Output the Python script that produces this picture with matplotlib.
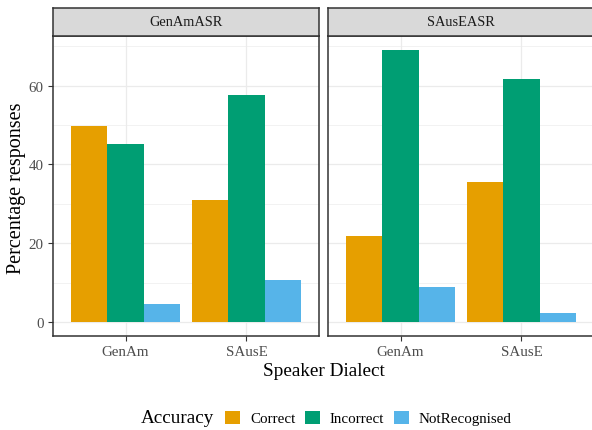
import numpy as np
import matplotlib
matplotlib.use("Agg")
import matplotlib.pyplot as plt
from matplotlib.patches import Patch

# ---------------------------------------------------------------------------
# Data: percentage of responses per accuracy class, by ASR model and dialect
# ---------------------------------------------------------------------------
models = ["GenAmASR", "SAusEASR"]
dialects = ["GenAm", "SAusE"]
accuracy = ["Correct", "Incorrect", "NotRecognised"]

genam_asr = {
    "Correct":       [49.8, 31.1],
    "Incorrect":     [45.1, 57.7],
    "NotRecognised": [4.6, 10.7],
}
sause_asr = {
    "Correct":       [21.8, 35.6],
    "Incorrect":     [69.1, 61.6],
    "NotRecognised": [8.9, 2.4],
}
panel_data = [genam_asr, sause_asr]

colours = ["#E69F00", "#009E73", "#56B4E9"]

plt.rcParams["font.family"] = ["Liberation Serif", "DejaVu Serif"]

W, H = 592, 431
fig = plt.figure(figsize=(W / 100, H / 100), dpi=100, facecolor="white")


def px_box(x0, y0, x1, y1):
    """pixel box (top-left origin) -> figure-fraction rect"""
    return [x0 / W, 1 - y1 / H, (x1 - x0) / W, (y1 - y0) / H]


panel_x = [(53, 319), (328, 594)]
top, bottom, strip_top = 37, 337, 9

all_vals = [v for d in panel_data for s in d.values() for v in s]
ymax = max(all_vals)
ylim = (-0.05 * ymax, ymax * 1.05)

grey20 = "#333333"
grey30 = "#4D4D4D"
grid_col = "#EBEBEB"

n = len(accuracy)
width = 0.9 / n
x = np.arange(1, len(dialects) + 1)

for i, (model, data) in enumerate(zip(models, panel_data)):
    x0, x1 = panel_x[i]
    ax = fig.add_axes(px_box(x0, top, x1, bottom))
    ax.set_xlim(0.4, len(dialects) + 0.6)
    ax.set_ylim(*ylim)

    # grid
    for yv in [0, 20, 40, 60]:
        ax.axhline(yv, color=grid_col, lw=0.9, zorder=0)
    for yv in [10, 30, 50, 70]:
        ax.axhline(yv, color=grid_col, lw=0.45, zorder=0)
    for xv in x:
        ax.axvline(xv, color=grid_col, lw=0.9, zorder=0)

    for j, acc in enumerate(accuracy):
        ax.bar(x + (j - 1) * width, data[acc], width=width,
               color=colours[j], zorder=2, linewidth=0)

    ax.set_xticks(x)
    ax.set_xticklabels(dialects)
    ax.set_yticks([0, 20, 40, 60])
    ax.tick_params(axis="both", colors=grey20, length=3.8, width=0.8,
                   labelsize=10.8, labelcolor=grey30, pad=3)
    if i > 0:
        ax.tick_params(axis="y", left=False, labelleft=False)
    for sp in ax.spines.values():
        sp.set_color(grey20)
        sp.set_linewidth(1.1)

    # facet strip
    sax = fig.add_axes(px_box(x0, strip_top, x1, top))
    sax.set_facecolor("#D9D9D9")
    sax.set_xticks([])
    sax.set_yticks([])
    for sp in sax.spines.values():
        sp.set_color(grey20)
        sp.set_linewidth(1.1)
    sax.text(0.5, 0.5, model, ha="center", va="center", fontsize=10.4,
             color="#1A1A1A", transform=sax.transAxes)

# axis titles
fig.text(17 / W, 1 - 188 / H, "Percentage responses", rotation=90,
         ha="center", va="center", fontsize=14.5)
fig.text(324 / W, 1 - 372 / H, "Speaker Dialect", ha="center", va="center",
         fontsize=13.9)

# legend
fig.text(177 / W, 1 - 419 / H, "Accuracy", ha="center", va="center",
         fontsize=13.8)
handles = [Patch(facecolor=c, edgecolor="none") for c in colours]
fig.legend(handles, accuracy, ncol=3, loc="center left",
           bbox_to_anchor=(219 / W, 1 - 419 / H), frameon=False,
           fontsize=10.8, handlelength=1.0, handleheight=1.0,
           handletextpad=0.68, columnspacing=0.62, borderaxespad=0)

fig.savefig("out.png", dpi=100, facecolor="white")
